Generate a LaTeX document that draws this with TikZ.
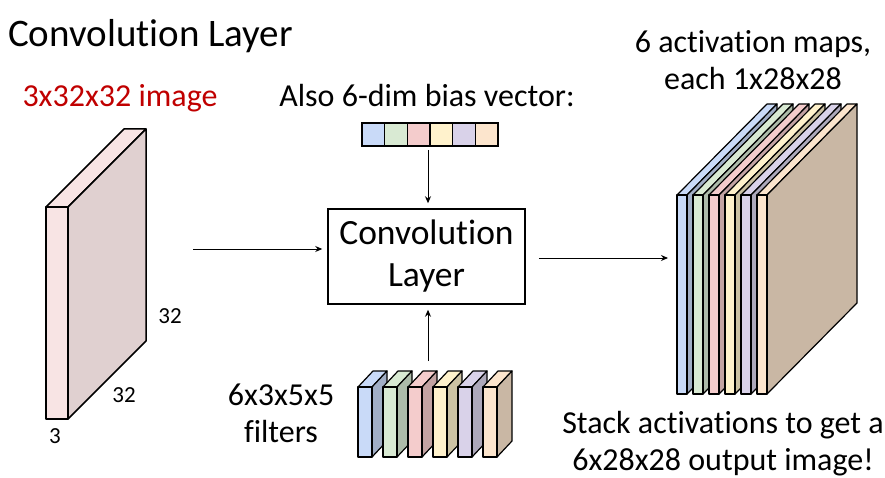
\documentclass[tikz,border=0pt]{standalone}
\usepackage{fontspec}
\setmainfont{Carlito}[Ligatures=NoCommon]
\usetikzlibrary{positioning, arrows.meta}

\definecolor{redtxt}{HTML}{C00000}
\definecolor{imgFront}{HTML}{F8E4E4}
\definecolor{imgSide}{HTML}{E0D0D0}
\definecolor{fBlue}{HTML}{C9DAF8}   \definecolor{sBlue}{HTML}{A1AEC6}
\definecolor{fGreen}{HTML}{D9EAD3}  \definecolor{sGreen}{HTML}{ADBBA9}
\definecolor{fRed}{HTML}{F4CCCC}    \definecolor{sRed}{HTML}{C3A3A3}
\definecolor{fYellow}{HTML}{FFF2CC} \definecolor{sYellow}{HTML}{CCC2A3}
\definecolor{fPurple}{HTML}{D9D2E9} \definecolor{sPurple}{HTML}{ADA8BA}
\definecolor{fOrange}{HTML}{FCE5CD} \definecolor{sOrange}{HTML}{C9B7A4}

\tikzset{
  slab/.style={draw=black, line width=1.2pt, line join=round},
  flow/.style={-{Stealth[length=7pt,width=6pt]}, line width=1pt, shorten >=5pt},
  txt/.style={font=\fontsize{32}{37}\selectfont, inner sep=0pt, align=center},
  small/.style={font=\fontsize{23}{27}\selectfont, inner sep=0pt},
  biascell/.style={draw, line width=1.5pt, minimum size=22.67pt, inner sep=0pt},
  convbox/.style={draw, line width=1.5pt, minimum width=197pt, minimum height=95pt,
    font=\fontsize{35.5}{42}\selectfont, align=center, inner sep=0pt},
}

\begin{document}
\begin{tikzpicture}[x=1pt, y=-1pt]
    \useasboundingbox (0,0) rectangle (885,478);

    % Title
    \node[anchor=base west, inner sep=0pt, font=\fontsize{39}{45}\selectfont] (title) at (8,47) {Convolution Layer};

    % Input image
    \filldraw[slab, line width=1.5pt, fill=imgFront] (46,207) -- ++(78,-78) -- ++(22,0) -- ++(-78,78) -- cycle;
    \filldraw[slab, line width=1.5pt, fill=imgSide] (68,207) -- ++(78,-78) -- ++(0,212) -- ++(-78,78) -- cycle;
    \filldraw[slab, line width=1.5pt, fill=imgFront] (46,207) rectangle (68,419);
    \node[txt, anchor=base, text=redtxt] (imglbl) at (120,107) {3x32x32 image};
    \node[small] (h) at (170,316) {32};
    \node[small] (w) at (124,395) {32};
    \node[small] (c) at (55,436) {3};
    \coordinate (img) at (193,249);

    % Convolution layer
    \node[convbox] (conv) at (426.5,256.5) {Convolution\\Layer};

    % Bias vector
    \node[txt, anchor=base] (biaslbl) at (427,107) {Also 6-dim bias vector:};
    \foreach \c [count=\i] in {fBlue,fGreen,fRed,fYellow,fPurple,fOrange} {
      \node[biascell, fill=\c] (b\i) at ({362+22.67*\i-11.33},134.5) {};
    }
    \coordinate (bias) at (428,150);

    % Filters
    \foreach \i/\f/\s in {0/fBlue/sBlue, 1/fGreen/sGreen, 2/fRed/sRed, 3/fYellow/sYellow, 4/fPurple/sPurple, 5/fOrange/sOrange} {
      \pgfmathsetmacro\x{358+25*\i}
      \filldraw[slab, fill=\f] (\x,387) -- ++(15,-16) -- ++(14,0) -- ++(-15,16) -- cycle;
      \filldraw[slab, fill=\s] (\x+14,387) -- ++(15,-16) -- ++(0,70) -- ++(-15,16) -- cycle;
      \filldraw[slab, fill=\f] (\x,387) rectangle ++(14,70);
    }
    \coordinate (filt) at (428,361);
    \node[txt] (filtlbl) at (281,413.5) {6x3x5x5\\filters};

    % Activation maps
    \foreach \i/\f/\s in {0/fBlue/sBlue, 1/fGreen/sGreen, 2/fRed/sRed, 3/fYellow/sYellow, 4/fPurple/sPurple, 5/fOrange/sOrange} {
      \pgfmathsetmacro\x{677+16*\i}
      \filldraw[slab, fill=\f] (\x,195) -- ++(90,-91) -- ++(10,0) -- ++(-90,91) -- cycle;
      \filldraw[slab, fill=\s] (\x+10,195) -- ++(90,-91) -- ++(0,199) -- ++(-90,91) -- cycle;
      \filldraw[slab, fill=\f] (\x,195) rectangle ++(10,199);
    }
    \coordinate (maps) at (673,258);
    \node[txt] (mapslbl) at (753,60) {6 activation maps,\\each 1x28x28};
    \node[txt] (outlbl) at (723,444) {Stack activations to get a\\6x28x28 output image!};

    % Connectors
    \draw[flow] (img) -- (img -| conv.west);
    \draw[flow] (bias) -- (bias |- conv.north);
    \draw[flow] (filt) -- (filt |- conv.south);
    \draw[flow, shorten <=13pt] (conv.east |- maps) -- (maps);

  \end{tikzpicture}
\end{document}
